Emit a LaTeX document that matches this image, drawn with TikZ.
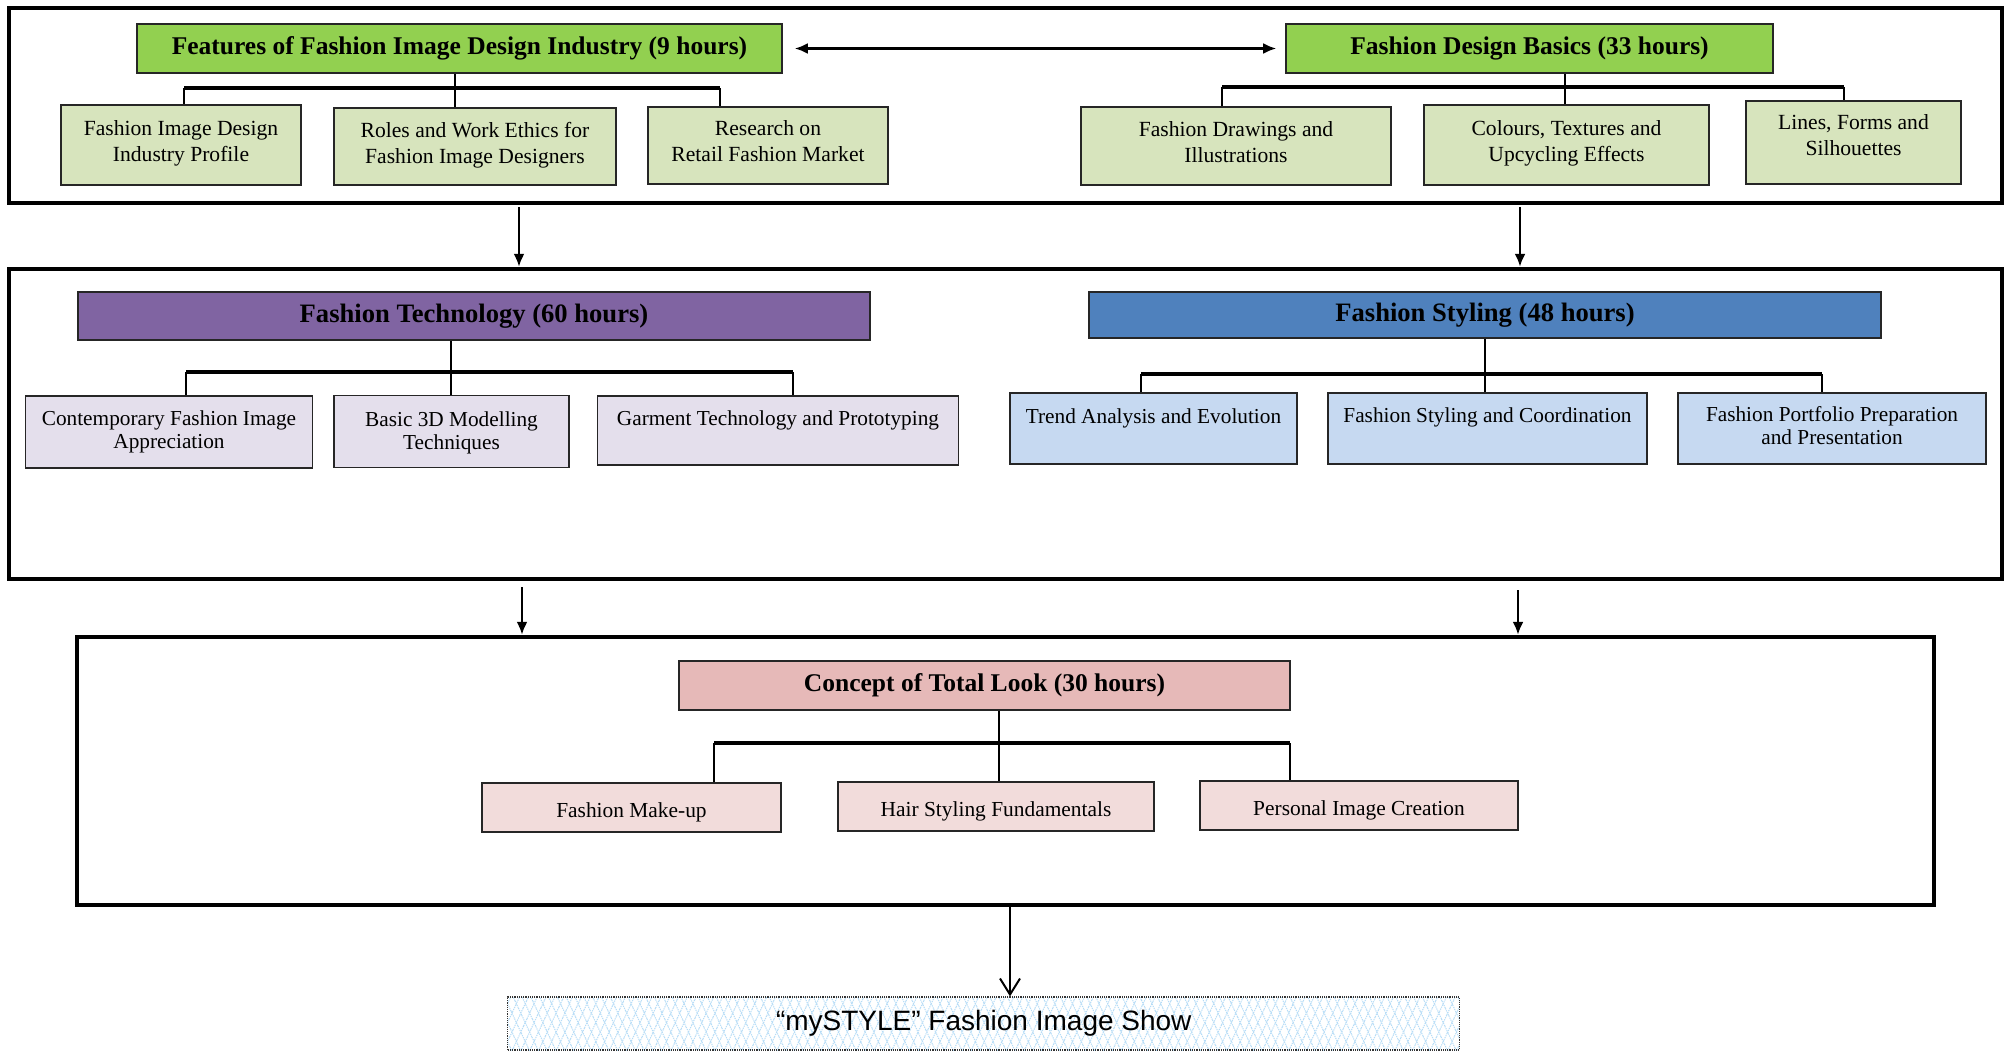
\documentclass[tikz,border=0pt]{standalone}
\usepackage{fontspec}
\setmainfont{Liberation Serif}
\setsansfont{Liberation Sans}
\usetikzlibrary{arrows.meta,patterns.meta}
\definecolor{tgreen}{HTML}{92D050}
\definecolor{lgreen}{HTML}{D7E4BD}
\definecolor{tpurple}{HTML}{8064A2}
\definecolor{lpurple}{HTML}{E4DFEC}
\definecolor{tblue}{HTML}{4F81BD}
\definecolor{lblue}{HTML}{C6D9F1}
\definecolor{tpink}{HTML}{E6B9B8}
\definecolor{lpink}{HTML}{F2DCDB}
\definecolor{hatchc}{HTML}{B5DCF7}
\begin{document}
\begin{tikzpicture}[x=1pt,y=-1pt,
  outerbox/.style={draw=black, line width=4.5pt, inner sep=0pt},
  titlebox/.style={draw=black!85, line width=1.8pt, inner sep=0pt,
    font=\fontsize{25.5}{30}\selectfont\bfseries},
  bigtitle/.style={font=\fontsize{26.6}{30}\selectfont\bfseries},
  subbox/.style={draw=black!85, line width=1.8pt, inner sep=0pt, align=center,
    font=\fontsize{21.6}{26}\selectfont},
  subboxa/.style={subbox, text depth=8pt},
  subboxb/.style={subbox, font=\fontsize{21.3}{23}\selectfont},
  subboxc/.style={subbox, font=\fontsize{21.4}{26}\selectfont, text height=24pt},
  stem/.style={line width=1.6pt},
  bar/.style={line width=3.5pt},
  leg/.style={line width=2.5pt},
  darrow/.style={line width=2.2pt, -{Latex[length=13pt,width=11pt]}},
]
\useasboundingbox (0,0) rectangle (2013,1051);

% outer frames
\node[outerbox, minimum width=1993, minimum height=195] (B1) at (1005.5,105.5) {};
\node[outerbox, minimum width=1993, minimum height=310] (B2) at (1005.5,424) {};
\node[outerbox, minimum width=1857, minimum height=268] (B3) at (1005.5,771) {};

% row 1
\node[titlebox, fill=tgreen, minimum width=645, minimum height=49] (g1) at (459.5,48.5) {Features of Fashion Image Design Industry (9 hours)};
\node[titlebox, fill=tgreen, minimum width=487, minimum height=49] (g2) at (1529.5,48.5) {Fashion Design Basics (33 hours)};
\node[subboxa, fill=lgreen, minimum width=240, minimum height=80] (a1) at (181,145) {Fashion Image Design\\Industry Profile};
\node[subboxa, fill=lgreen, minimum width=282, minimum height=77] (a2) at (475,146.5) {Roles and Work Ethics for\\Fashion Image Designers};
\node[subboxa, fill=lgreen, minimum width=240, minimum height=77] (a3) at (768,145.5) {Research on\\Retail Fashion Market};
\node[subboxa, fill=lgreen, minimum width=310, minimum height=78] (b1) at (1236,146) {Fashion Drawings and\\Illustrations};
\node[subboxa, fill=lgreen, minimum width=285, minimum height=80] (b2) at (1566.5,145) {Colours, Textures and\\Upcycling Effects};
\node[subbox, fill=lgreen, minimum width=215, minimum height=83, text depth=14pt] (b3) at (1853.5,142.5) {Lines, Forms and\\Silhouettes};

\draw[line width=2.2pt, {Latex[length=13pt,width=11pt]}-{Latex[length=13pt,width=11pt]}, shorten <=12pt, shorten >=9pt] (g1.east) -- (g2.west);

\coordinate (L1) at (184,88); \coordinate (S1) at (455,88); \coordinate (R1) at (720,88);
\draw[stem] (S1 |- g1.south) -- (S1 |- a2.north);
\draw[bar] (L1) -- (R1);
\draw[leg] (L1) -- (L1 |- a1.north);
\draw[leg] (R1) -- (R1 |- a3.north);

\coordinate (L2) at (1222,87); \coordinate (S2) at (1565,87); \coordinate (R2) at (1844,87);
\draw[stem] (S2 |- g2.south) -- (S2 |- b2.north);
\draw[bar] (L2) -- (R2);
\draw[leg] (L2) -- (L2 |- b1.north);
\draw[leg] (R2) -- (R2 |- b3.north);

% arrows row1 -> row2
\coordinate (X1) at (519,0); \coordinate (X2) at (1520,0);
\draw[darrow, shorten <=2pt] (B1.south -| X1) -- (B2.north -| X1);
\draw[darrow, shorten <=2pt] (B1.south -| X2) -- (B2.north -| X2);

% row 2
\node[titlebox, bigtitle, fill=tpurple, minimum width=792, minimum height=48] (p) at (474,316) {Fashion Technology (60 hours)};
\node[titlebox, bigtitle, fill=tblue, minimum width=792, minimum height=46] (q) at (1485,315) {Fashion Styling (48 hours)};
\node[subboxb, fill=lpurple, minimum width=287, minimum height=72] (c1) at (169,432) {Contemporary Fashion Image\\Appreciation};
\node[subboxb, fill=lpurple, minimum width=235, minimum height=72, text depth=1pt] (c2) at (451.5,431.5) {Basic 3D Modelling\\Techniques};
\node[subboxb, fill=lpurple, minimum width=361, minimum height=69, text depth=24pt] (c3) at (778,430.5) {Garment Technology and Prototyping};
\node[subboxb, fill=lblue, minimum width=287, minimum height=71, text depth=24pt] (d1) at (1153.5,428.5) {Trend Analysis and Evolution};
\node[subboxb, fill=lblue, minimum width=319, minimum height=71, text depth=26pt] (d2) at (1487.5,428.5) {Fashion Styling and Coordination};
\node[subboxb, fill=lblue, minimum width=308, minimum height=71, text depth=6pt] (d3) at (1832,428.5) {Fashion Portfolio Preparation\\and Presentation};

\coordinate (L3) at (186,372); \coordinate (S3) at (451,372); \coordinate (R3) at (793,372);
\draw[stem] (S3 |- p.south) -- (S3 |- c2.north);
\draw[bar] (L3) -- (R3);
\draw[leg] (L3) -- (L3 |- c1.north);
\draw[leg] (R3) -- (R3 |- c3.north);

\coordinate (L4) at (1141,374); \coordinate (S4) at (1485,374); \coordinate (R4) at (1822,374);
\draw[stem] (S4 |- q.south) -- (S4 |- d2.north);
\draw[bar] (L4) -- (R4);
\draw[leg] (L4) -- (L4 |- d1.north);
\draw[leg] (R4) -- (R4 |- d3.north);

% arrows row2 -> row3
\coordinate (X3) at (522,0); \coordinate (X4) at (1518,0);
\draw[darrow, shorten <=6pt] (B2.south -| X3) -- (B3.north -| X3);
\draw[darrow, shorten <=9pt] (B2.south -| X4) -- (B3.north -| X4);

% row 3
\node[titlebox, fill=tpink, minimum width=611, minimum height=49] (r) at (984.5,685.5) {Concept of Total Look (30 hours)};
\node[subboxc, fill=lpink, minimum width=299, minimum height=49] (e1) at (631.5,807.5) {Fashion Make-up};
\node[subboxc, fill=lpink, minimum width=316, minimum height=49] (e2) at (996,806.5) {Hair Styling Fundamentals};
\node[subboxc, fill=lpink, minimum width=318, minimum height=49] (e3) at (1359,805.5) {Personal Image Creation};

\coordinate (L5) at (714,743); \coordinate (S5) at (999,743); \coordinate (R5) at (1290,743);
\draw[stem] (S5 |- r.south) -- (S5 |- e2.north);
\draw[bar] (L5) -- (R5);
\draw[leg] (L5) -- (L5 |- e1.north);
\draw[leg] (R5) -- (R5 |- e3.north);

% final show
\node[draw=black!80, densely dotted, line width=1.2pt, inner sep=0pt,
  minimum width=952, minimum height=53,
  preaction={fill=white},
  preaction={pattern={Lines[angle=65,distance=8pt,line width=1pt]}, pattern color=hatchc},
  preaction={pattern={Lines[angle=115,distance=8pt,line width=1pt]}, pattern color=hatchc},
  font=\sffamily\fontsize{28}{30}\selectfont] (F) at (983.75,1023.5) {“mySTYLE” Fashion Image Show};

\coordinate (X5) at (1010,0);
\draw[line width=2pt, -{Straight Barb[length=16pt,width=20pt]}] (B3.south -| X5) -- (F.north -| X5);
\end{tikzpicture}
\end{document}
